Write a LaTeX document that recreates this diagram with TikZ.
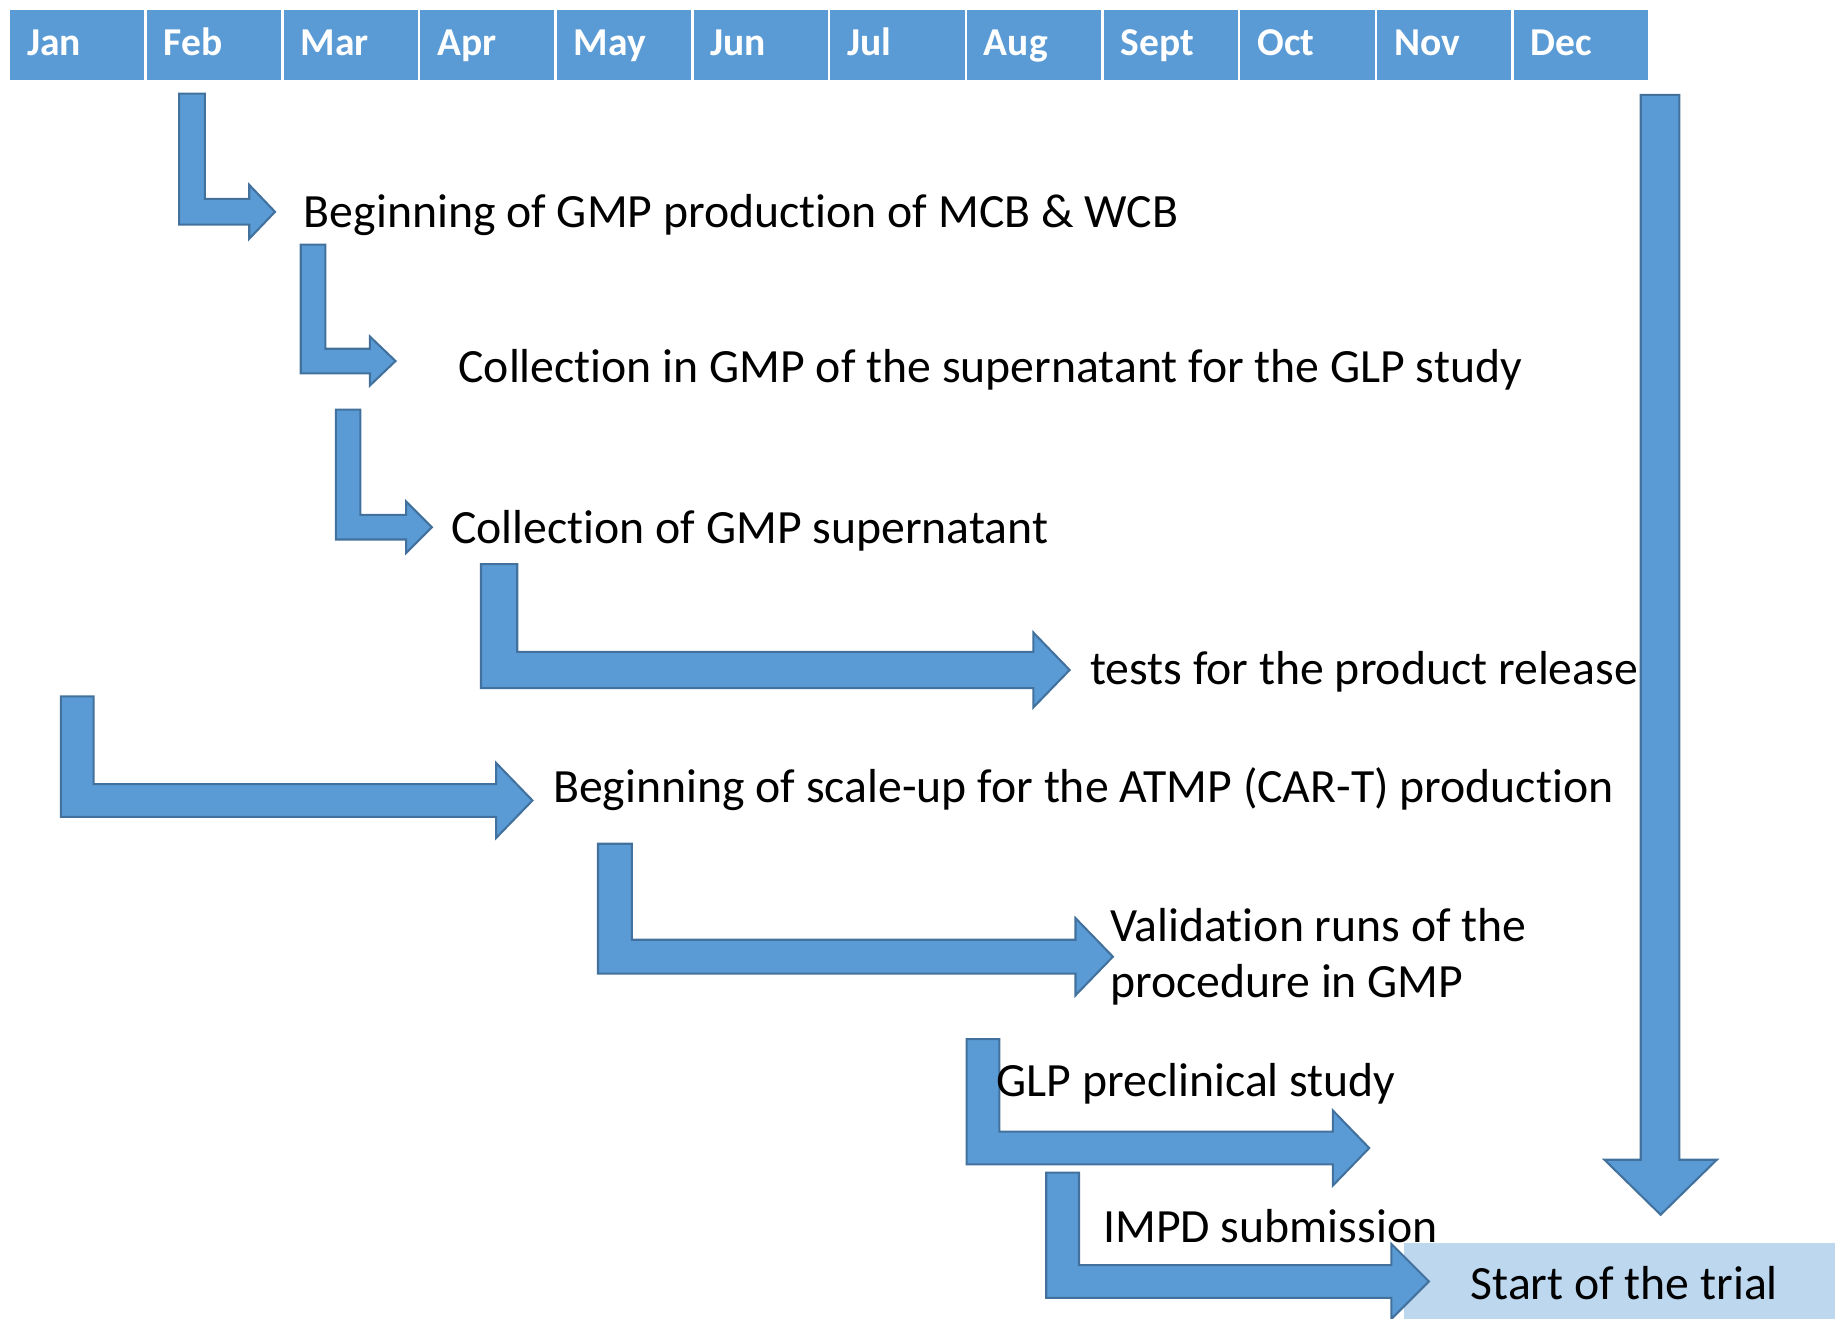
\documentclass[tikz,border=0pt]{standalone}
\usepackage{fontspec}
\setmainfont{Carlito}[Ligatures=NoCommon]
\usetikzlibrary{positioning}
\definecolor{barblue}{HTML}{5B9BD5}
\definecolor{edgeblue}{HTML}{41719C}
\definecolor{trialblue}{HTML}{BDD7EE}
\tikzset{
  month/.style={fill=barblue, text=white, font=\bfseries\fontsize{9.6}{11}\selectfont,
    text width=0.856cm, inner xsep=0.145cm, inner ysep=0pt, text height=0.2cm,
    text depth=0.02cm, minimum height=0.6cm, align=left, anchor=north west},
  bent/.style={fill=barblue, draw=edgeblue, line width=0.5pt, line join=miter},
  event/.style={font=\fontsize{11.6}{13.6}\selectfont, anchor=base west, inner sep=0pt, align=left}
}
% bent arrow: left x, top y, width, shaft top y, head base x, tip x, head half height
\newcommand{\bentarrow}[7]{%
  \draw[bent] (#1,#2) -- ({#1+#3},#2) -- ({#1+#3},#4) -- (#5,#4) -- (#5,{#4+#3/2-#7})
    -- (#6,{#4+#3/2}) -- (#5,{#4+#3/2+#7}) -- (#5,{#4+#3}) -- (#1,{#4+#3}) -- cycle;}

\begin{document}
\begin{tikzpicture}[x=0.01cm, y=-0.01cm]
    \useasboundingbox (0,0) rectangle (1568,1127);
    % months
    \foreach \m [count=\i from 0] in {Jan,Feb,Mar,Apr,May,Jun,Jul,Aug,Sept,Oct,Nov,Dec}
        \node[month] (m\i) at ({8+116.8*\i},8) {\m};
    % start of the trial
    \fill[trialblue] (1200,1062) rectangle (1568,1127);
    \node[event] (trial) at (1256,1110) {Start of the trial};
    % long arrow down to the trial
    \draw[bent] (1402,81) -- (1435,81) -- (1435,991) -- (1467,991) -- (1419,1038)
        -- (1371,991) -- (1402,991) -- cycle;
    % bent arrows
    \bentarrow{153}{80}{22}{170}{213}{235}{23}
    \bentarrow{257}{209}{21}{298}{316}{338}{21}
    \bentarrow{287}{350}{21}{440}{347}{369}{22}
    \bentarrow{411}{482}{31}{557}{883}{914}{32}
    \bentarrow{52}{595}{28}{670}{424}{455}{32}
    \bentarrow{511}{721}{29}{803}{919}{951}{33}
    \bentarrow{826}{888}{28}{967}{1139}{1170}{32}
    \bentarrow{894}{1002}{28}{1081}{1189}{1221}{32}
    % events
    \node[event] (mcb) at (259,194) {Beginning of GMP production of MCB \& WCB};
    \node[event] (glpsup) at (391,327) {Collection in GMP of the supernatant for the GLP study};
    \node[event] (gmpsup) at (385,464) {Collection of GMP supernatant};
    \node[event] (tests) at (931,585) {tests for the product release};
    \node[event] (scale) at (472,686) {Beginning of scale-up for the ATMP (CAR-T) production};
    \node[event] (valid) at (948,852) {Validation runs of the\\procedure in GMP};
    \node[event] (glp) at (851,937) {GLP preclinical study};
    \node[event] (impd) at (942,1062) {IMPD submission};
\end{tikzpicture}
\end{document}
